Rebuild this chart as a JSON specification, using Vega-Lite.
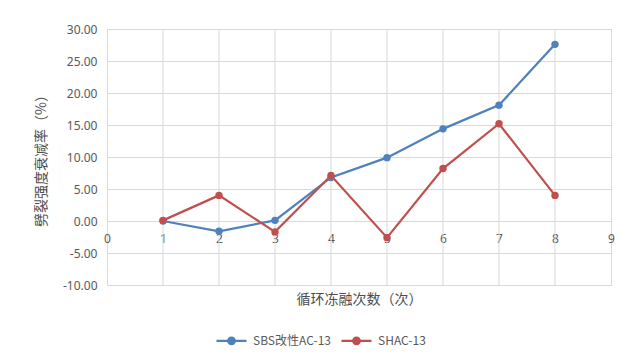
{
  "$schema": "https://vega.github.io/schema/vega-lite/v6.json",
  "width": 504,
  "height": 256,
  "autosize": {"type": "none"},
  "padding": {"left": 107, "top": 29, "right": 23, "bottom": 72},
  "background": "white",
  "config": {
    "view": {"stroke": "#d9d9d9", "strokeWidth": 1},
    "font": "Noto Sans",
    "axis": {
      "gridColor": "#d9d9d9",
      "gridWidth": 1,
      "domain": false,
      "ticks": false,
      "labelColor": "#595959",
      "labelFont": "Noto Sans",
      "labelFontSize": 12,
      "titleColor": "#4d4d4d",
      "titleFont": "Noto Sans CJK SC",
      "titleFontSize": 14,
      "titleFontWeight": "normal"
    },
    "legend": {
      "labelColor": "#595959",
      "labelFont": "Noto Sans CJK SC",
      "labelFontSize": 12
    }
  },
  "datasets": {
    "rates": [
      {"cycles": 1, "series": "SBS改性AC-13", "rate": 0.0},
      {"cycles": 2, "series": "SBS改性AC-13", "rate": -1.6},
      {"cycles": 3, "series": "SBS改性AC-13", "rate": 0.1},
      {"cycles": 4, "series": "SBS改性AC-13", "rate": 6.8},
      {"cycles": 5, "series": "SBS改性AC-13", "rate": 9.9},
      {"cycles": 6, "series": "SBS改性AC-13", "rate": 14.4},
      {"cycles": 7, "series": "SBS改性AC-13", "rate": 18.1},
      {"cycles": 8, "series": "SBS改性AC-13", "rate": 27.6},
      {"cycles": 1, "series": "SHAC-13", "rate": 0.1},
      {"cycles": 2, "series": "SHAC-13", "rate": 4.0},
      {"cycles": 3, "series": "SHAC-13", "rate": -1.7},
      {"cycles": 4, "series": "SHAC-13", "rate": 7.1},
      {"cycles": 5, "series": "SHAC-13", "rate": -2.6},
      {"cycles": 6, "series": "SHAC-13", "rate": 8.2},
      {"cycles": 7, "series": "SHAC-13", "rate": 15.2},
      {"cycles": 8, "series": "SHAC-13", "rate": 4.0}
    ],
    "gridX": [
      {"cycles": 1}, {"cycles": 2}, {"cycles": 3}, {"cycles": 4},
      {"cycles": 5}, {"cycles": 6}, {"cycles": 7}, {"cycles": 8}
    ]
  },
  "layer": [
    {
      "data": {"name": "gridX"},
      "mark": {"type": "rule", "color": "#d9d9d9", "strokeWidth": 1},
      "encoding": {
        "x": {
          "field": "cycles",
          "type": "quantitative",
          "scale": {"domain": [0, 9], "nice": false, "zero": false},
          "axis": {
            "title": "循环冻融次数（次）",
            "values": [0, 1, 2, 3, 4, 5, 6, 7, 8, 9],
            "grid": false,
            "offset": -64,
            "labelPadding": 12,
            "titleY": 71,
            "labelFlush": false
          }
        }
      }
    },
    {
      "data": {"name": "rates"},
      "mark": {"type": "line", "strokeWidth": 2.25},
      "encoding": {
        "x": {
          "field": "cycles",
          "type": "quantitative",
          "scale": {"domain": [0, 9], "nice": false, "zero": false},
          "axis": {
            "title": "循环冻融次数（次）",
            "values": [0, 1, 2, 3, 4, 5, 6, 7, 8, 9],
            "grid": false,
            "offset": -64,
            "labelPadding": 12,
            "titleY": 71,
            "labelFlush": false
          }
        },
        "y": {
          "field": "rate",
          "type": "quantitative",
          "scale": {"domain": [-10, 30], "nice": false},
          "axis": {
            "title": "劈裂强度衰减率（%）",
            "values": [-10, -5, 0, 5, 10, 15, 20, 25, 30],
            "format": ".2f",
            "labelExpr": "replace(datum.label, '\u2212', '-')",
            "labelPadding": 10,
            "titlePadding": 14
          }
        },
        "color": {
          "field": "series",
          "type": "nominal",
          "sort": ["SBS改性AC-13", "SHAC-13"],
          "scale": {"domain": ["SBS改性AC-13", "SHAC-13"], "range": ["#4f81bd", "#c0504d"]},
          "legend": {
            "title": null,
            "orient": "none",
            "direction": "horizontal",
            "legendX": 108,
            "legendY": 295,
            "symbolType": "M-1,0L1,0M-0.22,0A0.22,0.22 0 1,0 0.22,0A0.22,0.22 0 1,0 -0.22,0Z",
            "symbolSize": 900,
            "symbolStrokeWidth": 2.25,
            "columnPadding": 6,
            "labelOffset": 5,
            "encode": {
              "symbols": {"update": {"fill": {"scale": "color", "field": "value"}, "fillOpacity": {"value": 1}}}
            }
          }
        }
      }
    },
    {
      "data": {"name": "rates"},
      "mark": {"type": "point", "filled": true, "size": 55, "opacity": 1},
      "encoding": {
        "x": {
          "field": "cycles",
          "type": "quantitative",
          "scale": {"domain": [0, 9], "nice": false, "zero": false},
          "axis": {
            "title": "循环冻融次数（次）",
            "values": [0, 1, 2, 3, 4, 5, 6, 7, 8, 9],
            "grid": false,
            "offset": -64,
            "labelPadding": 12,
            "titleY": 71,
            "labelFlush": false
          }
        },
        "y": {
          "field": "rate",
          "type": "quantitative",
          "scale": {"domain": [-10, 30], "nice": false},
          "axis": {
            "title": "劈裂强度衰减率（%）",
            "values": [-10, -5, 0, 5, 10, 15, 20, 25, 30],
            "format": ".2f",
            "labelExpr": "replace(datum.label, '\u2212', '-')",
            "labelPadding": 10,
            "titlePadding": 14
          }
        },
        "color": {
          "field": "series",
          "type": "nominal",
          "sort": ["SBS改性AC-13", "SHAC-13"],
          "scale": {"domain": ["SBS改性AC-13", "SHAC-13"], "range": ["#4f81bd", "#c0504d"]},
          "legend": {
            "title": null,
            "orient": "none",
            "direction": "horizontal",
            "legendX": 108,
            "legendY": 295,
            "symbolType": "M-1,0L1,0M-0.22,0A0.22,0.22 0 1,0 0.22,0A0.22,0.22 0 1,0 -0.22,0Z",
            "symbolSize": 900,
            "symbolStrokeWidth": 2.25,
            "columnPadding": 6,
            "labelOffset": 5,
            "encode": {
              "symbols": {"update": {"fill": {"scale": "color", "field": "value"}, "fillOpacity": {"value": 1}}}
            }
          }
        }
      }
    }
  ]
}
